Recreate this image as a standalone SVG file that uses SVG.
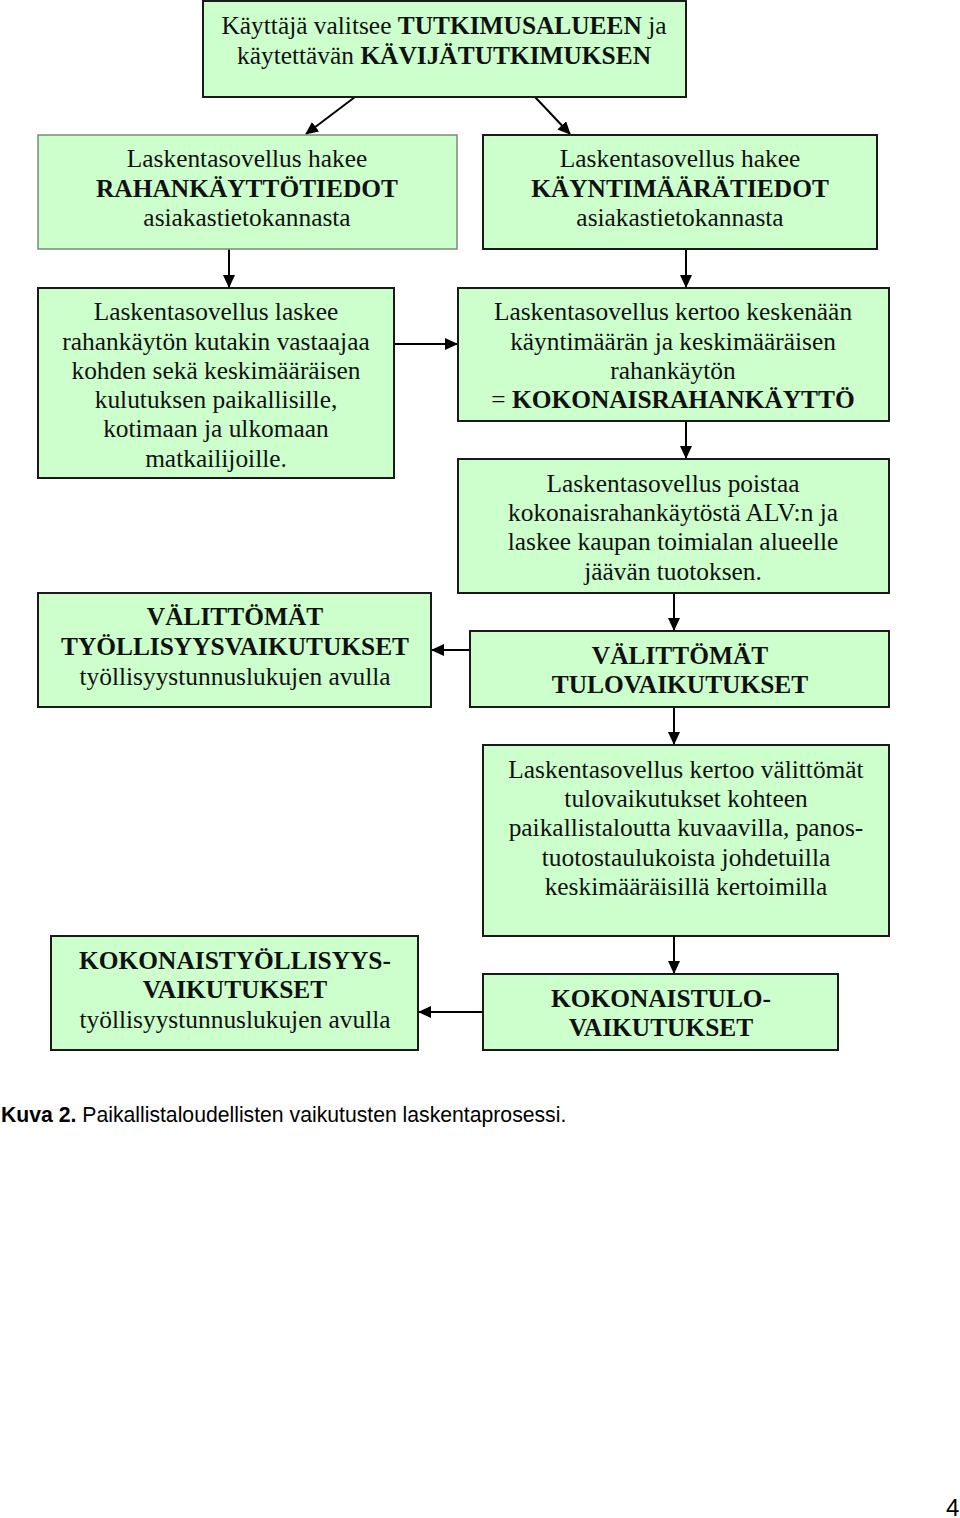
<svg xmlns="http://www.w3.org/2000/svg" width="960" height="1518" viewBox="0 0 960 1518">
<style>
.box{fill:#ccffcc;stroke:#1a1a1a;stroke-width:2}
.box2{fill:#ccffcc;stroke:#7a8a7a;stroke-width:1.5}
.t{font-family:"Liberation Serif","Times New Roman",serif;font-size:25.4px;fill:#111;text-anchor:middle}
.b{font-weight:bold}
.c{stroke:#000;stroke-width:2;fill:none;marker-end:url(#ah)}
</style>
<defs>
<marker id="ah" viewBox="0 0 13 12" refX="12" refY="6" markerWidth="13" markerHeight="12" markerUnits="userSpaceOnUse" orient="auto">
<path d="M0,0 L13,6 L0,12 Z" fill="#000"/>
</marker>
</defs>
<rect width="960" height="1518" fill="#fff"/>
<g id="connectors">
<line class="c" x1="355" y1="97" x2="306" y2="134"/>
<line class="c" x1="535" y1="97" x2="570" y2="134"/>
<line class="c" x1="229" y1="249" x2="229" y2="287"/>
<line class="c" x1="686" y1="249" x2="686" y2="287"/>
<line class="c" x1="394" y1="344" x2="457" y2="344"/>
<line class="c" x1="686" y1="421" x2="686" y2="458"/>
<line class="c" x1="674" y1="593" x2="674" y2="630"/>
<line class="c" x1="470" y1="650" x2="432" y2="650"/>
<line class="c" x1="674" y1="707" x2="674" y2="744"/>
<line class="c" x1="674" y1="936" x2="674" y2="973"/>
<line class="c" x1="483" y1="1012" x2="419" y2="1012"/>
</g>
<g id="n1">
<rect class="box" x="203" y="1" width="483" height="96"/>
<text class="t" x="444" y="34">Käyttäjä valitsee <tspan class="b">TUTKIMUSALUEEN</tspan> ja</text>
<text class="t" x="444" y="64">käytettävän <tspan class="b">KÄVIJÄTUTKIMUKSEN</tspan></text>
</g>
<g id="n2">
<rect class="box2" x="38" y="135" width="419" height="114"/>
<text class="t" x="247" y="167">Laskentasovellus hakee</text>
<text class="t b" x="247" y="197">RAHANKÄYTTÖTIEDOT</text>
<text class="t" x="247" y="226">asiakastietokannasta</text>
</g>
<g id="n3">
<rect class="box" x="483" y="135" width="394" height="114"/>
<text class="t" x="680" y="167">Laskentasovellus hakee</text>
<text class="t b" x="680" y="197">KÄYNTIMÄÄRÄTIEDOT</text>
<text class="t" x="680" y="226">asiakastietokannasta</text>
</g>
<g id="n4">
<rect class="box" x="38" y="288" width="356" height="190"/>
<text class="t" x="216" y="320">Laskentasovellus laskee</text>
<text class="t" x="216" y="350">rahankäytön kutakin vastaajaa</text>
<text class="t" x="216" y="379">kohden sekä keskimääräisen</text>
<text class="t" x="216" y="408">kulutuksen paikallisille,</text>
<text class="t" x="216" y="437">kotimaan ja ulkomaan</text>
<text class="t" x="216" y="467">matkailijoille.</text>
</g>
<g id="n5">
<rect class="box" x="458" y="288" width="431" height="133"/>
<text class="t" x="673" y="320">Laskentasovellus kertoo keskenään</text>
<text class="t" x="673" y="350">käyntimäärän ja keskimääräisen</text>
<text class="t" x="673" y="379">rahankäytön</text>
<text class="t" x="673" y="408">= <tspan class="b">KOKONAISRAHANKÄYTTÖ</tspan></text>
</g>
<g id="n6">
<rect class="box" x="458" y="459" width="431" height="134"/>
<text class="t" x="673" y="492">Laskentasovellus poistaa</text>
<text class="t" x="673" y="521">kokonaisrahankäytöstä ALV:n ja</text>
<text class="t" x="673" y="550">laskee kaupan toimialan alueelle</text>
<text class="t" x="673" y="580">jäävän tuotoksen.</text>
</g>
<g id="n7">
<rect class="box" x="38" y="593" width="393" height="114"/>
<text class="t b" x="235" y="625">VÄLITTÖMÄT</text>
<text class="t b" x="235" y="655">TYÖLLISYYSVAIKUTUKSET</text>
<text class="t" x="235" y="685">työllisyystunnuslukujen avulla</text>
</g>
<g id="n8">
<rect class="box" x="470" y="631" width="419" height="76"/>
<text class="t b" x="680" y="664">VÄLITTÖMÄT</text>
<text class="t b" x="680" y="693">TULOVAIKUTUKSET</text>
</g>
<g id="n9">
<rect class="box" x="483" y="745" width="406" height="191"/>
<text class="t" x="686" y="778">Laskentasovellus kertoo välittömät</text>
<text class="t" x="686" y="807">tulovaikutukset kohteen</text>
<text class="t" x="686" y="836">paikallistaloutta kuvaavilla, panos-</text>
<text class="t" x="686" y="866">tuotostaulukoista johdetuilla</text>
<text class="t" x="686" y="895">keskimääräisillä kertoimilla</text>
</g>
<g id="n10">
<rect class="box" x="51" y="936" width="367" height="114"/>
<text class="t b" x="235" y="969">KOKONAISTYÖLLISYYS-</text>
<text class="t b" x="235" y="998">VAIKUTUKSET</text>
<text class="t" x="235" y="1028">työllisyystunnuslukujen avulla</text>
</g>
<g id="n11">
<rect class="box" x="483" y="974" width="355" height="76"/>
<text class="t b" x="661" y="1007">KOKONAISTULO-</text>
<text class="t b" x="661" y="1036">VAIKUTUKSET</text>
</g>
<text x="1" y="1122" font-family="Liberation Sans, Arial, sans-serif" font-size="21.2" fill="#000"><tspan font-weight="bold">Kuva 2.</tspan> Paikallistaloudellisten vaikutusten laskentaprosessi.</text>
<text x="946" y="1516" font-family="Liberation Sans, Arial, sans-serif" font-size="24" fill="#000">4</text>
</svg>
